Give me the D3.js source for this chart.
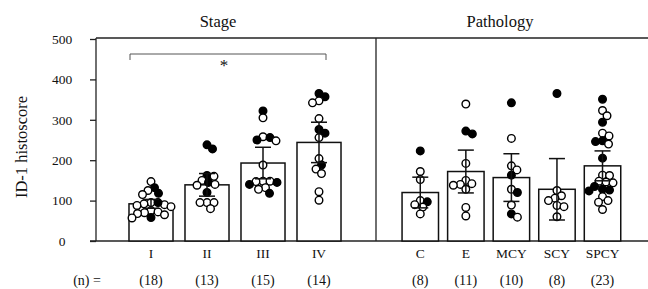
<!DOCTYPE html>
<html>
<head>
<meta charset="utf-8">
<script src="https://cdn.jsdelivr.net/npm/d3@7"></script>
<style>
  body { margin: 0; background: #fff; }
  svg text { font-family: "Liberation Serif", "Times New Roman", "DejaVu Serif", serif; }
</style>
</head>
<body>
<div id="chart"></div>
<script>
// values
var stageCats = ["I", "II", "III", "IV"];
var stageN = ["(18)", "(13)", "(15)", "(14)"];
var stageMean = [92, 139, 193, 244];
var stageSD = [11, 28, 39, 50];
var stageValues = [
  [147, 132, 125, 118, 115, 95, 92, 90, 95, 88, 85, 75, 72, 70, 68, 65, 57, 58],
  [238, 228, 162, 160, 150, 145, 140, 138, 120, 95, 95, 95, 80],
  [322, 305, 258, 256, 250, 248, 188, 148, 148, 145, 147, 140, 132, 128, 118],
  [365, 357, 347, 342, 303, 276, 267, 256, 204, 188, 178, 167, 122, 101]
];
var stageFilled = [
  [0, 1, 0, 1, 0, 0, 0, 0, 1, 0, 0, 0, 0, 0, 0, 0, 0, 1],
  [1, 1, 1, 0, 0, 1, 0, 0, 1, 0, 0, 0, 0],
  [1, 0, 0, 1, 1, 0, 0, 0, 0, 1, 0, 1, 0, 0, 1],
  [1, 1, 0, 0, 0, 1, 1, 0, 0, 1, 0, 0, 0, 0]
];

var pathCats = ["C", "E", "MCY", "SCY", "SPCY"];
var pathN = ["(8)", "(11)", "(10)", "(8)", "(23)"];
var pathMean = [120, 172, 157, 128, 186];
var pathSD = [38, 53, 59, 76, 37];
var pathValues = [
  [223, 172, 152, 100, 97, 90, 84, 67],
  [339, 272, 265, 192, 150, 142, 140, 138, 128, 83, 62],
  [342, 254, 186, 176, 163, 128, 120, 89, 67, 59],
  [365, 125, 112, 106, 100, 88, 85, 60],
  [351, 323, 310, 294, 267, 260, 248, 246, 240, 205, 163, 162, 148, 146, 144, 135, 128, 126, 124, 110, 100, 96, 78]
];
var pathFilled = [
  [1, 0, 0, 0, 1, 0, 0, 0],
  [0, 1, 1, 0, 0, 0, 0, 0, 0, 0, 0],
  [1, 0, 0, 0, 1, 0, 1, 0, 1, 0],
  [1, 0, 0, 0, 0, 0, 0, 0],
  [1, 0, 0, 1, 0, 0, 1, 1, 0, 1, 0, 0, 0, 0, 0, 1, 1, 1, 1, 0, 0, 0, 0]
];
var yTicks = [0, 100, 200, 300, 400, 500];

var W = 648, H = 289;
var padL = 96, padR = 648, padT = 38, padB = 241, split = 376;
var r = 3.8, minDist = 6.8;
var serif = '"Liberation Serif", "Times New Roman", "DejaVu Serif", serif';

var svg = d3.select('#chart').append('svg').attr('width', W).attr('height', H);

var y = d3.scaleLinear().domain([0, 500]).range([padB, 39]);
var xStage = d3.scaleBand().domain(stageCats).range([123, 347]).paddingInner(0.214).paddingOuter(0.107);
var xPath = d3.scaleBand().domain(pathCats).range([397.5, 625.3]).paddingInner(0.2).paddingOuter(0.1);

function label(x, yy, txt, size) {
  return svg.append('text').attr('x', x).attr('y', yy).attr('text-anchor', 'middle')
    .attr('font-size', size).attr('font-family', serif).attr('fill', '#111').text(txt);
}

// frame
var frame = svg.append('g').attr('stroke', '#222').attr('stroke-width', 1.3).attr('fill', 'none');
frame.append('line').attr('x1', padL).attr('x2', padL).attr('y1', padT).attr('y2', padB);
frame.append('line').attr('x1', padL).attr('x2', padR).attr('y1', padT).attr('y2', padT);
frame.append('line').attr('x1', split).attr('x2', split).attr('y1', padT).attr('y2', padB);
frame.append('line').attr('x1', padL - 6).attr('x2', padR).attr('y1', padB).attr('y2', padB);

// y axis, labels are centred in the original
var yAxis = svg.append('g').attr('transform', 'translate(' + padL + ',0)')
  .call(d3.axisLeft(y).tickValues(yTicks).tickSize(6));
yAxis.attr('font-family', serif);
yAxis.select('.domain').remove();
yAxis.selectAll('line').attr('stroke', '#222').attr('stroke-width', 1.3);
yAxis.selectAll('text').attr('x', -34).attr('text-anchor', 'middle')
  .attr('font-size', 13.5).attr('font-family', serif).attr('fill', '#111');

svg.append('text').attr('transform', 'translate(27,147) rotate(-90)')
  .attr('text-anchor', 'middle').attr('font-size', 16.5).attr('font-family', serif).attr('fill', '#111').text('ID-1 histoscore');

// titles
label(218, 27, 'Stage', 16.5);
label(500, 27, 'Pathology', 16.5);

function swarm(vals) {
  // simple beeswarm: each point goes to the free x offset nearest the centre
  var order = vals.map(function(v, i) { return i; }).sort(function(a, b) { return vals[b] - vals[a]; });
  var placed = [], offs = new Array(vals.length);
  order.forEach(function(i) {
    var py = y(vals[i]);
    for (var k = 0; k < 200; k++) {
      var cand = (k % 2 ? 1 : -1) * Math.ceil(k / 2) * 0.5;
      var ok = placed.every(function(p) {
        var dx = p.x - cand, dy = p.y - py;
        return dx * dx + dy * dy >= minDist * minDist;
      });
      if (ok) { offs[i] = cand; placed.push({x: cand, y: py}); break; }
    }
  });
  return offs;
}

function drawPanel(cats, x, mean, sd, values, filled, nLabels) {
  var g = svg.append('g');
  var bw = x.bandwidth();
  g.selectAll('rect.bar').data(cats).enter().append('rect').attr('class', 'bar')
    .attr('x', function(d) { return x(d); })
    .attr('y', function(d, i) { return y(mean[i]); })
    .attr('width', bw)
    .attr('height', function(d, i) { return padB - y(mean[i]); })
    .attr('fill', '#fff').attr('stroke', '#111').attr('stroke-width', 1.5);

  cats.forEach(function(c, i) {
    var cx = x(c) + bw / 2;
    var offs = swarm(values[i]);
    var pts = values[i].map(function(v, j) { return {v: v, f: filled[i][j], o: offs[j]}; });
    g.selectAll(null).data(pts).enter().append('circle')
      .attr('cx', function(d) { return cx + d.o; })
      .attr('cy', function(d) { return y(d.v); })
      .attr('r', r)
      .attr('fill', function(d) { return d.f ? '#000' : '#fff'; })
      .attr('stroke', '#000').attr('stroke-width', 1.4);

    var eb = g.append('g').attr('stroke', '#111').attr('stroke-width', 1.5);
    eb.append('line').attr('x1', cx).attr('x2', cx).attr('y1', y(mean[i] - sd[i])).attr('y2', y(mean[i] + sd[i]));
    eb.append('line').attr('x1', cx - 8).attr('x2', cx + 8).attr('y1', y(mean[i] + sd[i])).attr('y2', y(mean[i] + sd[i]));
    eb.append('line').attr('x1', cx - 8).attr('x2', cx + 8).attr('y1', y(mean[i] - sd[i])).attr('y2', y(mean[i] - sd[i]));
  });

  cats.forEach(function(c, i) {
    label(x(c) + bw / 2, 258, c, 13.5);
    label(x(c) + bw / 2, 285, nLabels[i], 14);
  });
}

drawPanel(stageCats, xStage, stageMean, stageSD, stageValues, stageFilled, stageN);
drawPanel(pathCats, xPath, pathMean, pathSD, pathValues, pathFilled, pathN);

label(87, 285, '(n) =', 14);

// significance bracket I vs IV
var b1 = xStage('I') + xStage.bandwidth() / 2 - 21, b2 = xStage('IV') + xStage.bandwidth() / 2 + 7;
svg.append('path').attr('d', 'M' + b1 + ',60V54H' + b2 + 'V60')
  .attr('stroke', '#555').attr('stroke-width', 1).attr('fill', 'none');
label(224, 71, '*', 17);
</script>
</body>
</html>
